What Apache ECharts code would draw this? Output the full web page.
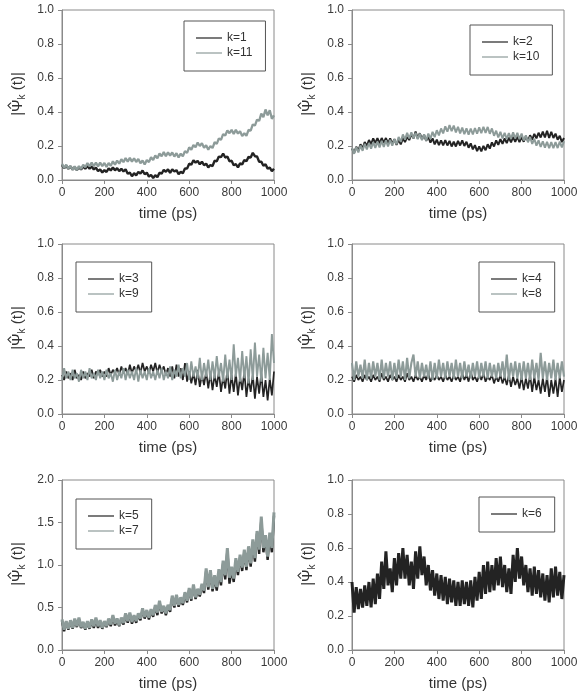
<!DOCTYPE html>
<html>
<head>
<meta charset="utf-8">
<script src="https://cdn.jsdelivr.net/npm/echarts@6/dist/echarts.min.js"></script>
<style>
html,body{margin:0;padding:0;background:#fff;}
#chart{width:582px;height:695px;}
</style>
</head>
<body>
<div id="chart"></div>
<script>
// sampling grid (ps)
const T_STEP = 10;
const T_COUNT = 101;

// x ticks / y ticks
const xTicks = [0, 200, 400, 600, 800, 1000];
const yTicksUnit = [0, 0.2, 0.4, 0.6, 0.8, 1.0];
const yTicksBig = [0, 0.5, 1.0, 1.5, 2.0];

// Panel 1
const k1 = [
0.088,0.07,0.084,0.066,0.08,0.062,0.076,0.058,0.076,0.062,
0.08,0.066,0.083,0.066,0.08,0.062,0.073,0.052,0.063,0.044,
0.058,0.047,0.068,0.056,0.074,0.057,0.07,0.052,0.066,0.05,
0.063,0.037,0.043,0.022,0.04,0.027,0.048,0.037,0.056,0.034,
0.043,0.02,0.03,0.012,0.028,0.017,0.043,0.037,0.06,0.048,
0.063,0.042,0.063,0.05,0.058,0.034,0.048,0.04,0.068,0.067,
0.096,0.09,0.116,0.102,0.113,0.092,0.108,0.087,0.096,0.074,
0.088,0.082,0.113,0.11,0.138,0.134,0.156,0.132,0.138,0.11,
0.113,0.087,0.093,0.074,0.098,0.092,0.118,0.11,0.136,0.132,
0.16,0.14,0.138,0.107,0.108,0.084,0.093,0.067,0.073,0.052,
0.066];
const k11 = [
0.095,0.07,0.09,0.067,0.082,0.06,0.08,0.057,0.082,0.064,
0.09,0.075,0.1,0.08,0.102,0.081,0.102,0.08,0.102,0.082,
0.1,0.076,0.1,0.083,0.11,0.09,0.114,0.096,0.122,0.105,
0.129,0.108,0.13,0.108,0.128,0.106,0.124,0.098,0.115,0.091,
0.118,0.105,0.134,0.118,0.144,0.128,0.156,0.14,0.164,0.14,
0.163,0.143,0.162,0.138,0.158,0.133,0.155,0.14,0.17,0.16,
0.192,0.178,0.206,0.193,0.22,0.2,0.217,0.19,0.205,0.178,
0.2,0.188,0.222,0.212,0.245,0.236,0.27,0.262,0.292,0.275,
0.295,0.27,0.295,0.273,0.287,0.258,0.275,0.26,0.295,0.29,
0.327,0.32,0.355,0.348,0.39,0.37,0.415,0.38,0.41,0.36,
0.38];

// Panel 2
const k2 = [
0.185,0.16,0.195,0.173,0.21,0.185,0.223,0.2,0.235,0.21,
0.245,0.217,0.247,0.215,0.247,0.218,0.247,0.215,0.245,0.213,
0.24,0.207,0.237,0.21,0.245,0.223,0.253,0.235,0.27,0.245,
0.285,0.245,0.275,0.24,0.265,0.23,0.255,0.22,0.245,0.21,
0.237,0.205,0.233,0.203,0.235,0.203,0.23,0.197,0.225,0.197,
0.23,0.203,0.233,0.2,0.225,0.19,0.215,0.18,0.205,0.17,
0.197,0.168,0.201,0.175,0.21,0.185,0.221,0.197,0.233,0.207,
0.24,0.213,0.245,0.217,0.25,0.222,0.253,0.225,0.255,0.223,
0.253,0.225,0.257,0.23,0.263,0.237,0.271,0.245,0.278,0.25,
0.285,0.25,0.29,0.247,0.284,0.247,0.273,0.237,0.26,0.223,
0.247];
const k10 = [
0.188,0.154,0.193,0.162,0.203,0.172,0.213,0.18,0.218,0.184,
0.223,0.189,0.226,0.192,0.23,0.195,0.233,0.197,0.236,0.202,
0.24,0.21,0.253,0.224,0.268,0.237,0.278,0.244,0.281,0.244,
0.278,0.24,0.273,0.234,0.268,0.232,0.273,0.242,0.283,0.252,
0.293,0.262,0.303,0.274,0.316,0.284,0.323,0.287,0.32,0.28,
0.313,0.274,0.308,0.27,0.304,0.267,0.303,0.268,0.306,0.272,
0.31,0.276,0.313,0.277,0.312,0.272,0.303,0.26,0.29,0.25,
0.283,0.244,0.278,0.24,0.276,0.242,0.28,0.244,0.278,0.24,
0.273,0.232,0.263,0.222,0.253,0.212,0.243,0.202,0.233,0.194,
0.228,0.19,0.224,0.187,0.223,0.187,0.223,0.188,0.226,0.192,
0.228];

// Panel 3
const k3 = [
0.23,0.2,0.25,0.21,0.24,0.2,0.26,0.21,0.23,0.2,
0.25,0.21,0.24,0.22,0.26,0.21,0.25,0.23,0.26,0.22,
0.25,0.22,0.27,0.23,0.26,0.24,0.27,0.23,0.28,0.24,
0.27,0.23,0.29,0.24,0.28,0.25,0.29,0.24,0.3,0.25,
0.28,0.24,0.29,0.25,0.3,0.24,0.29,0.25,0.28,0.23,
0.27,0.22,0.28,0.21,0.29,0.22,0.27,0.2,0.3,0.19,
0.25,0.18,0.24,0.17,0.26,0.16,0.23,0.17,0.25,0.15,
0.24,0.14,0.23,0.16,0.25,0.13,0.22,0.15,0.26,0.12,
0.23,0.13,0.24,0.11,0.22,0.14,0.25,0.1,0.21,0.13,
0.23,0.09,0.22,0.12,0.24,0.1,0.2,0.08,0.21,0.11,
0.25];
const k9 = [
0.2,0.27,0.21,0.25,0.2,0.26,0.21,0.24,0.19,0.26,
0.21,0.25,0.2,0.27,0.21,0.24,0.2,0.26,0.21,0.25,
0.2,0.26,0.21,0.24,0.19,0.26,0.2,0.25,0.21,0.27,
0.2,0.26,0.21,0.25,0.2,0.27,0.19,0.26,0.21,0.25,
0.2,0.27,0.21,0.25,0.2,0.26,0.21,0.27,0.2,0.25,
0.21,0.28,0.2,0.26,0.22,0.29,0.21,0.27,0.22,0.3,
0.2,0.31,0.22,0.28,0.21,0.33,0.2,0.3,0.22,0.32,
0.2,0.31,0.21,0.34,0.22,0.3,0.19,0.35,0.21,0.32,
0.2,0.41,0.22,0.33,0.19,0.37,0.21,0.34,0.18,0.38,
0.2,0.42,0.22,0.35,0.19,0.39,0.21,0.36,0.2,0.47,
0.3];

// Panel 4
const k4 = [
0.22,0.19,0.23,0.2,0.22,0.19,0.23,0.2,0.22,0.19,
0.23,0.2,0.22,0.19,0.24,0.2,0.22,0.19,0.23,0.2,
0.22,0.19,0.23,0.2,0.22,0.19,0.24,0.2,0.22,0.19,
0.23,0.2,0.22,0.19,0.23,0.2,0.24,0.19,0.22,0.2,
0.23,0.2,0.22,0.19,0.23,0.2,0.22,0.19,0.23,0.2,
0.22,0.19,0.24,0.2,0.23,0.19,0.25,0.2,0.22,0.19,
0.23,0.2,0.24,0.19,0.22,0.2,0.23,0.18,0.22,0.19,
0.23,0.18,0.22,0.17,0.23,0.16,0.22,0.17,0.21,0.15,
0.22,0.14,0.21,0.15,0.23,0.13,0.22,0.14,0.2,0.12,
0.21,0.13,0.22,0.1,0.2,0.12,0.21,0.1,0.22,0.13,
0.2];
const k8 = [
0.3,0.2,0.31,0.22,0.29,0.21,0.32,0.2,0.3,0.21,
0.31,0.22,0.3,0.2,0.32,0.21,0.3,0.22,0.31,0.2,
0.3,0.21,0.32,0.22,0.31,0.2,0.33,0.21,0.3,0.35,
0.22,0.31,0.21,0.3,0.22,0.29,0.21,0.31,0.2,0.3,
0.21,0.32,0.22,0.3,0.21,0.31,0.22,0.3,0.21,0.32,
0.22,0.3,0.21,0.31,0.22,0.29,0.21,0.3,0.22,0.31,
0.21,0.3,0.22,0.31,0.21,0.3,0.22,0.29,0.21,0.3,
0.22,0.31,0.21,0.35,0.2,0.3,0.22,0.31,0.21,0.3,
0.2,0.31,0.21,0.3,0.2,0.32,0.21,0.3,0.2,0.36,
0.21,0.31,0.2,0.3,0.21,0.32,0.2,0.3,0.21,0.31,
0.22];

// Panel 5
const k5 = [
0.34,0.22,0.33,0.24,0.33,0.25,0.35,0.27,0.36,0.26,
0.31,0.24,0.32,0.25,0.34,0.26,0.36,0.26,0.33,0.25,
0.32,0.27,0.35,0.28,0.39,0.29,0.35,0.28,0.36,0.3,
0.41,0.32,0.42,0.31,0.39,0.32,0.41,0.35,0.47,0.37,
0.45,0.36,0.46,0.39,0.51,0.41,0.56,0.43,0.5,0.41,
0.51,0.45,0.62,0.5,0.63,0.51,0.6,0.53,0.66,0.56,
0.71,0.58,0.75,0.6,0.7,0.63,0.76,0.67,0.93,0.71,
0.91,0.69,0.85,0.7,0.92,0.76,1.02,0.83,1.17,0.78,
0.95,0.8,1.05,0.88,1.09,0.93,1.15,0.94,1.19,0.98,
1.27,1.04,1.37,1.13,1.53,1.15,1.32,1.06,1.35,1.15,
1.58];
const k7 = [
0.36,0.24,0.34,0.25,0.35,0.26,0.37,0.28,0.38,0.27,
0.33,0.25,0.34,0.26,0.36,0.28,0.38,0.28,0.35,0.26,
0.34,0.28,0.37,0.3,0.41,0.31,0.37,0.29,0.38,0.32,
0.43,0.34,0.44,0.33,0.41,0.34,0.43,0.37,0.49,0.39,
0.47,0.38,0.48,0.41,0.53,0.44,0.58,0.45,0.52,0.43,
0.53,0.47,0.64,0.52,0.65,0.53,0.62,0.55,0.68,0.58,
0.73,0.6,0.77,0.62,0.72,0.65,0.78,0.7,0.96,0.74,
0.94,0.72,0.88,0.74,0.95,0.8,1.05,0.88,1.2,0.85,
0.98,0.84,1.08,0.92,1.12,0.97,1.18,0.98,1.22,1.02,
1.3,1.08,1.4,1.18,1.57,1.2,1.35,1.1,1.38,1.2,
1.62];

// Panel 6
const k6 = [
0.4,0.22,0.37,0.24,0.36,0.25,0.38,0.26,0.4,0.25,
0.42,0.27,0.45,0.3,0.52,0.36,0.58,0.38,0.48,0.34,
0.54,0.38,0.57,0.42,0.6,0.42,0.56,0.38,0.52,0.36,
0.58,0.42,0.61,0.44,0.55,0.38,0.5,0.35,0.47,0.32,
0.45,0.3,0.44,0.29,0.43,0.27,0.42,0.28,0.41,0.26,
0.4,0.26,0.41,0.27,0.4,0.26,0.41,0.25,0.43,0.29,
0.46,0.3,0.5,0.33,0.52,0.34,0.5,0.35,0.54,0.38,
0.55,0.37,0.5,0.34,0.48,0.33,0.56,0.4,0.6,0.42,
0.55,0.38,0.5,0.34,0.48,0.32,0.49,0.33,0.47,0.31,
0.45,0.29,0.44,0.28,0.48,0.31,0.49,0.32,0.46,0.3,
0.44];

const time = Array.from({length: T_COUNT}, (_, i) => i * T_STEP);

const DARK = '#232323';
const GRAY = '#8d9b99';
const FONT = '"Liberation Sans", Arial, sans-serif';
const GW = 212, GH = 170;

// series entries: [legend name, values, colour, line width]
const panels = [
  {left: 62,  top: 10,  yTicks: yTicksUnit, series: [['k=1', k1, DARK, 2.4], ['k=11', k11, GRAY, 2.3]], legend: {left: 184, top: 21}},
  {left: 352, top: 10,  yTicks: yTicksUnit, series: [['k=2', k2, DARK, 2.0], ['k=10', k10, GRAY, 2.0]], legend: {left: 470, top: 25}},
  {left: 62,  top: 244, yTicks: yTicksUnit, series: [['k=3', k3, DARK, 1.7], ['k=9', k9, GRAY, 1.9]], legend: {left: 76, top: 262}},
  {left: 352, top: 244, yTicks: yTicksUnit, series: [['k=4', k4, DARK, 1.7], ['k=8', k8, GRAY, 2.1]], legend: {left: 479, top: 262}},
  {left: 62,  top: 480, yTicks: yTicksBig,  series: [['k=5', k5, DARK, 2.4], ['k=7', k7, GRAY, 3.0]], legend: {left: 76, top: 499}},
  {left: 352, top: 480, yTicks: yTicksUnit, series: [['k=6', k6, DARK, 3.0]], legend: {left: 479, top: 497}}
];

const option = {
  animation: false,
  backgroundColor: '#fff',
  textStyle: {fontFamily: FONT},
  grid: [], xAxis: [], yAxis: [], series: [], legend: [], graphic: []
};

// y-axis title: |Ψ̂_k (t)|  (text along the axis, hat drawn over Ψ)
const psiX = -11.6; // Ψ centre along the title, relative to title centre
panels.forEach((p, i) => {
  option.grid.push({left: p.left, top: p.top, width: GW, height: GH, show: true,
    borderColor: '#8a8a8a', borderWidth: 1, backgroundColor: 'transparent'});
  option.xAxis.push({
    type: 'value', gridIndex: i, min: xTicks[0], max: xTicks[xTicks.length - 1],
    interval: xTicks[1] - xTicks[0],
    name: 'time (ps)', nameLocation: 'middle', nameGap: 26,
    nameTextStyle: {fontSize: 15, color: '#333', fontFamily: FONT},
    axisLine: {lineStyle: {color: '#8a8a8a', width: 1}},
    axisTick: {inside: false, length: 4, lineStyle: {color: '#8a8a8a'}},
    axisLabel: {fontSize: 12, color: '#3a3a3a', margin: 7, fontFamily: FONT,
      formatter: v => String(v)},
    splitLine: {show: false}
  });
  const yt = p.yTicks;
  option.yAxis.push({
    type: 'value', gridIndex: i, min: yt[0], max: yt[yt.length - 1],
    interval: yt[1] - yt[0],
    axisLine: {show: true, lineStyle: {color: '#8a8a8a', width: 1}},
    axisTick: {show: true, inside: false, length: 4, lineStyle: {color: '#8a8a8a'}},
    axisLabel: {fontSize: 12, color: '#3a3a3a', margin: 8, fontFamily: FONT,
      formatter: v => v.toFixed(1)},
    splitLine: {show: false}
  });
  const names = [];
  p.series.forEach(([name, vals, color, lw]) => {
    names.push(name);
    option.series.push({
      type: 'line', name: name, xAxisIndex: i, yAxisIndex: i,
      data: vals.map((v, j) => [time[j], v]),
      showSymbol: false, symbol: 'none',
      lineStyle: {color: color, width: lw, join: 'bevel'},
      itemStyle: {color: color},
      silent: true
    });
  });
  option.legend.push({
    data: names, orient: 'vertical', left: p.legend.left, top: p.legend.top,
    borderColor: '#555', borderWidth: 1, borderRadius: 0,
    padding: [11, 13, 12, 12], itemGap: 3,
    icon: 'rect', itemWidth: 26, itemHeight: 1.2,
    textStyle: {fontSize: 12, color: '#333', fontFamily: FONT, lineHeight: 12},
    selectedMode: false
  });
  option.graphic.push({
    type: 'group', x: p.left - 44.5, y: p.top + GH / 2 - 1, rotation: Math.PI / 2,
    silent: true,
    children: [
      {type: 'text', x: 0, y: 0, style: {
        text: '{n||}{p|Ψ}{s|k}{n| (t)|}',
        align: 'center', verticalAlign: 'middle', textAlign: 'center', textVerticalAlign: 'middle',
        fill: '#333',
        rich: {
          n: {fontSize: 15, fill: '#333', color: '#333', fontFamily: FONT, lineHeight: 20},
          p: {fontSize: 15, fill: '#333', color: '#333', fontFamily: FONT, lineHeight: 20},
          s: {fontSize: 10, fill: '#333', color: '#333', fontFamily: FONT, lineHeight: 20, verticalAlign: 'bottom', padding: [7, 0, 0, 0]}
        }
      }},
      {type: 'polyline', shape: {points: [[psiX - 3, -6.5], [psiX, -9.5], [psiX + 3, -6.5]]},
        style: {stroke: '#333', lineWidth: 1.1, fill: null}}
    ]
  });
});

const chart = echarts.init(document.getElementById('chart'), null, {renderer: 'canvas'});
chart.setOption(option);
</script>
</body>
</html>
